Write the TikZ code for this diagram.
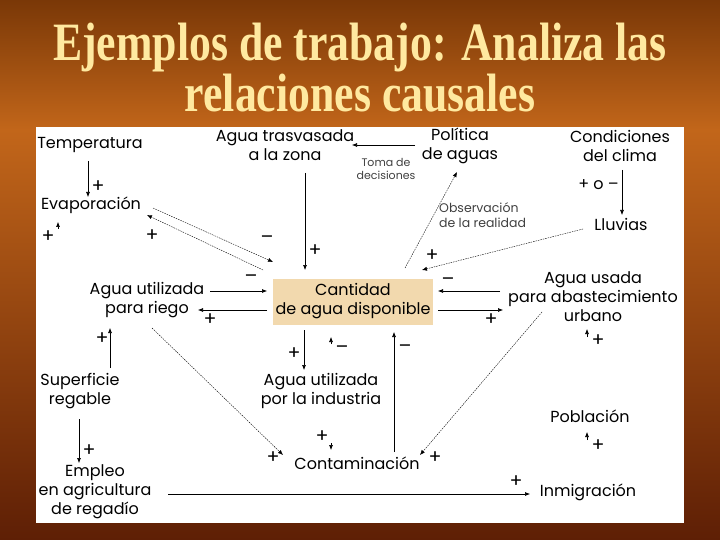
\documentclass[tikz,border=0pt]{standalone}
\usepackage{fontspec}
\setmainfont{Poppins}
\newfontfamily\titlefont{Liberation Serif}
\usetikzlibrary{arrows.meta,calc}
\definecolor{bgtop}{HTML}{7A3807}
\definecolor{bgmid}{HTML}{C2661A}
\definecolor{bgbot}{HTML}{5E1F05}
\definecolor{titlecol}{HTML}{FFE9A0}
\definecolor{boxfill}{HTML}{F2D9AE}
\begin{document}
\begin{tikzpicture}[x=1pt,y=-1pt,
  lbl/.style={font=\fontsize{16}{19}\selectfont, align=center, inner sep=1pt},
  sgn/.style={font=\fontsize{19}{19}\selectfont, inner sep=0pt},
  smalltxt/.style={font=\fontsize{11}{13}\selectfont, text=black!75, inner sep=0pt},
  arr/.style={-{Latex[length=5pt,width=4pt]}, line width=0.6pt},
  darr/.style={arr, line width=0.4pt, dash pattern=on 1.5pt off 1pt},
  ttl/.style={font=\titlefont\bfseries\fontsize{54}{54}\selectfont, text=titlecol, anchor=base, inner sep=0pt}
]
\useasboundingbox (0,0) rectangle (720,540);
\shade[top color=bgtop, bottom color=bgmid] (0,0) rectangle (720,130);
\shade[top color=bgmid, bottom color=bgbot] (0,130) rectangle (720,540);
\node[ttl] (t1) at (360,61) {\scalebox{0.81}[1]{Ejemplos de trabajo: Analiza las}};
\node[ttl] (t2) at (360,112) {\scalebox{0.81}[1]{relaciones causales}};
\node[fill=white, minimum width=648pt, minimum height=396pt, inner sep=0pt, anchor=north west] (panel) at (36,127) {};

% nodes
\node[lbl] (temp) at (90,145) {Temperatura};
\node[lbl] (evap) at (91,205) {Evaporación};
\node[lbl] (trasv) at (285,145.5) {Agua trasvasada\\a la zona};
\node[lbl] (polit) at (460,145.5) {Política\\de aguas};
\node[lbl] (clima) at (620,145.5) {Condiciones\\del clima};
\node[lbl] (lluv) at (621,224) {Lluvias};
\node[lbl, fill=boxfill, minimum width=160pt, minimum height=46pt] (cant) at (353,301.5) {Cantidad\\de agua disponible};
\node[lbl] (riego) at (147,300.5) {Agua utilizada\\para riego};
\node[lbl] (urb) at (593,296.5) {Agua usada\\para abastecimiento\\urbano};
\node[lbl] (ind) at (321,391) {Agua utilizada\\por la industria};
\node[lbl] (sup) at (80,391) {Superficie\\regable};
\node[lbl] (empleo) at (95,492) {Empleo\\en agricultura\\de regadío};
\node[lbl] (contam) at (357,463) {Contaminación};
\node[lbl] (pobl) at (590,416) {Población};
\node[lbl] (inmig) at (588,492) {Inmigración};
\node[smalltxt, align=center] (toma) at (386,168.5) {Toma de\\decisiones};
\node[smalltxt, align=left, anchor=west, font=\fontsize{12.5}{14.5}\selectfont] (obs) at (439,215) {Observación\\de la realidad};

% connectors
\draw[arr] ($(temp)+(-2,16)$) -- ($(evap)+(-3,-8)$);
\draw[arr] ($(polit)+(-45,-0.5)$) -- ($(trasv)+(67,-0.5)$);
\draw[arr] ($(clima)+(2,24.5)$) -- ($(lluv)+(1,-9)$);
\draw[arr] ($(trasv)+(20,27.5)$) -- ($(cant)+(-48,-31.5)$);
\draw[darr] ($(evap)+(62,3)$) -- ($(cant)+(-80,-39.5)$);
\draw[darr] ($(cant)+(-90,-31.5)$) -- ($(evap)+(56,10)$);
\draw[arr] ($(riego)+(63,-9.5)$) -- ($(cant)+(-86,-10.5)$);
\draw[arr] ($(cant)+(-86,8.5)$) -- ($(riego)+(51,9.5)$);
\draw[darr] ($(riego)+(5,27.5)$) -- ($(contam)+(-74,-8)$);
\draw[arr] ($(sup)+(30,-23)$) -- ($(riego)+(-37,27.5)$);
\draw[arr] ($(sup)+(-1,28)$) -- ($(empleo)+(-16,-29)$);
\draw[arr] ($(empleo)+(73,2)$) -- ($(inmig)+(-58,2)$);
\draw[arr] ($(urb)+(-93,-5.5)$) -- ($(cant)+(85,-10.5)$);
\draw[arr] ($(cant)+(85,8.5)$) -- ($(urb)+(-90,13.5)$);
\draw[darr] ($(urb)+(-51,15.5)$) -- ($(contam)+(63,-8)$);
\draw[darr] ($(lluv)+(-38,5)$) -- ($(cant)+(69,-31.5)$);
\draw[darr] ($(cant)+(52,-33.5)$) -- ($(polit)+(-3,26.5)$);
\draw[arr] ($(cant)+(-49,28.5)$) -- ($(ind)+(-17,-21)$);
\draw[arr] ($(contam)+(37,-11)$) -- ($(cant)+(41,30.5)$);
\draw[arr] ($(ind)+(10,-47)$) -- ($(cant)+(-22,35.5)$);
\draw[arr] ($(ind)+(10,52)$) -- ($(contam)+(-26,-13)$);
\draw[arr] ($(inmig)+(-1,-52)$) -- ($(pobl)+(-3,16)$);
\draw[arr] ($(pobl)+(-3,-79)$) -- ($(urb)+(-6,32.5)$);
\draw[arr] ($(evap)+(-33,24)$) -- ($(evap)+(-33,17)$);

% signs
\node[sgn] (s1) at (98,187) {+};
\node[sgn] (s2) at (48,237) {+};
\node[sgn] (s3) at (152,236) {+};
\node[sgn] (s4) at (267,240) {–};
\node[sgn] (s5) at (315,251) {+};
\node[sgn] (s6) at (251,279) {–};
\node[sgn] (s7) at (210,320) {+};
\node[sgn] (s8) at (432,256) {+};
\node[sgn] (s9) at (448,282) {–};
\node[sgn] (s10) at (491,320) {+};
\node[sgn] (s11) at (598,341) {+};
\node[sgn] (s12) at (102,339) {+};
\node[sgn] (s13) at (294,354) {+};
\node[sgn] (s14) at (342,350) {–};
\node[sgn] (s15) at (405,349) {–};
\node[sgn] (s16) at (89,451) {+};
\node[sgn] (s17) at (322,437) {+};
\node[sgn] (s18) at (273,458) {+};
\node[sgn] (s19) at (435,458) {+};
\node[sgn] (s20) at (598,446) {+};
\node[sgn] (s21) at (516,482) {+};
\node[sgn, anchor=east, font=\fontsize{16}{16}\selectfont] (s22) at (619,185) {+ o –};
\end{tikzpicture}
\end{document}
